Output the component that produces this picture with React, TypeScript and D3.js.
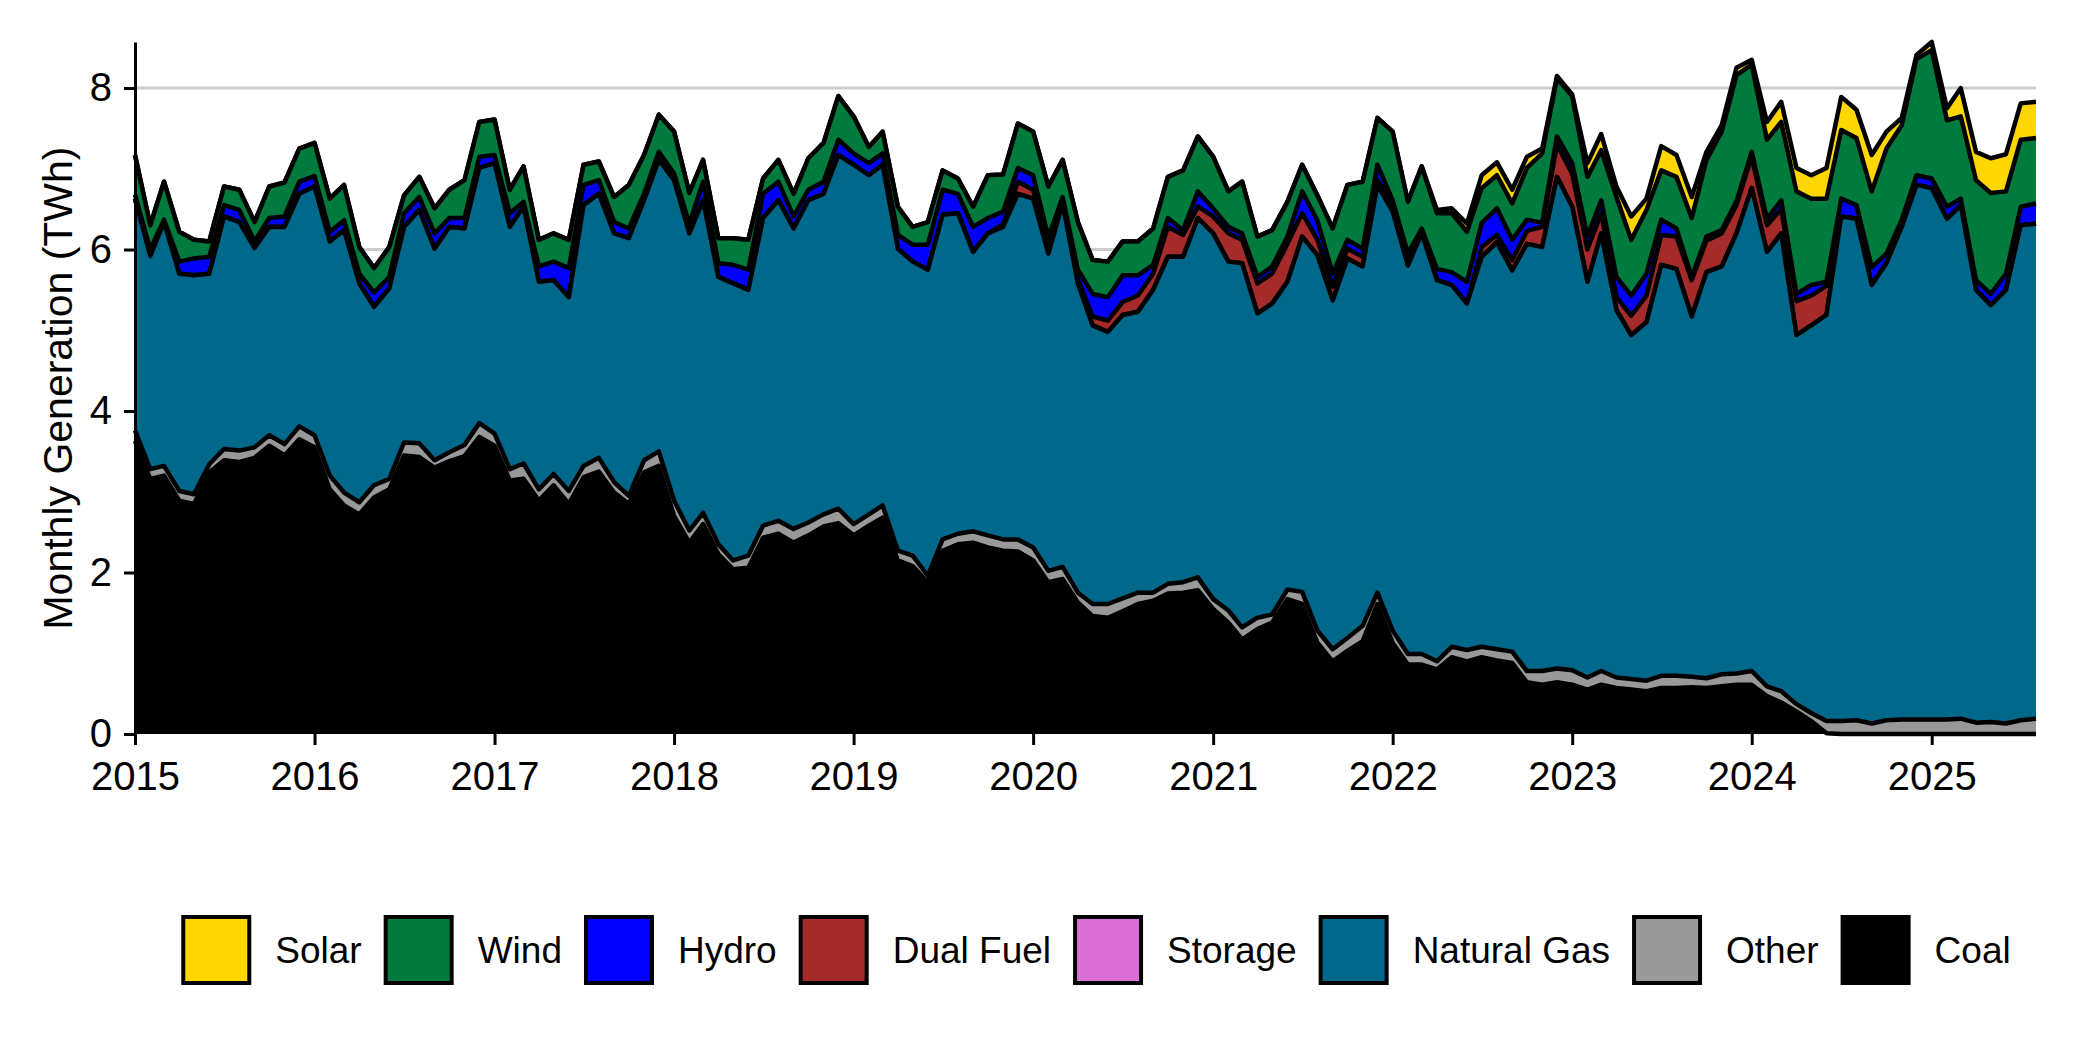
import { useEffect, useRef } from 'react'
import * as d3 from 'd3'

// monthly, Jan 2015 .. Aug 2025 (TWh)
const months = d3.timeMonth.range(new Date(2015, 0, 1), new Date(2025, 8, 1))

const coal = [
  3.63, 3.16, 3.20, 2.89, 2.85, 3.24, 3.39, 3.37, 3.42, 3.57, 3.45, 3.65,
  3.55, 3.03, 2.83, 2.72, 2.93, 3.03, 3.45, 3.43, 3.30, 3.38, 3.44, 3.68,
  3.57, 3.14, 3.16, 2.89, 3.08, 2.85, 3.18, 3.25, 2.99, 2.85, 3.24, 3.32,
  2.70, 2.37, 2.60, 2.23, 2.04, 2.06, 2.43, 2.48, 2.37, 2.46, 2.57, 2.61,
  2.46, 2.58, 2.68, 2.15, 2.08, 1.88, 2.27, 2.35, 2.37, 2.31, 2.27, 2.26,
  2.15, 1.88, 1.92, 1.63, 1.46, 1.44, 1.52, 1.61, 1.65, 1.74, 1.75, 1.78,
  1.55, 1.38, 1.17, 1.30, 1.38, 1.67, 1.61, 1.13, 0.90, 1.03, 1.15, 1.61,
  1.13, 0.86, 0.86, 0.80, 0.95, 0.90, 0.95, 0.91, 0.88, 0.64, 0.61, 0.64,
  0.61, 0.55, 0.61, 0.57, 0.55, 0.53, 0.57, 0.57, 0.58, 0.57, 0.59, 0.61,
  0.61, 0.47, 0.39, 0.28, 0.16, 0.01, 0, 0, 0, 0, 0, 0,
  0, 0, 0, 0, 0, 0, 0, 0,
]

const other = [
  0.13, 0.12, 0.12, 0.12, 0.12, 0.10, 0.14, 0.14, 0.13, 0.13, 0.14, 0.16,
  0.15, 0.17, 0.16, 0.15, 0.15, 0.13, 0.16, 0.17, 0.09, 0.11, 0.14, 0.17,
  0.15, 0.14, 0.19, 0.14, 0.14, 0.16, 0.14, 0.17, 0.13, 0.10, 0.15, 0.18,
  0.19, 0.15, 0.14, 0.12, 0.11, 0.15, 0.15, 0.16, 0.17, 0.16, 0.15, 0.18,
  0.14, 0.14, 0.15, 0.12, 0.13, 0.08, 0.14, 0.13, 0.14, 0.15, 0.14, 0.15,
  0.16, 0.14, 0.15, 0.12, 0.15, 0.17, 0.16, 0.14, 0.10, 0.12, 0.13, 0.16,
  0.12, 0.15, 0.15, 0.14, 0.10, 0.12, 0.15, 0.15, 0.15, 0.16, 0.19, 0.14,
  0.15, 0.13, 0.13, 0.10, 0.13, 0.14, 0.13, 0.14, 0.14, 0.14, 0.17, 0.17,
  0.18, 0.15, 0.17, 0.13, 0.13, 0.13, 0.15, 0.15, 0.13, 0.12, 0.15, 0.14,
  0.17, 0.12, 0.14, 0.09, 0.10, 0.15, 0.16, 0.17, 0.13, 0.17, 0.18, 0.18,
  0.18, 0.18, 0.19, 0.14, 0.15, 0.13, 0.17, 0.19,
]

const naturalGas = [
  2.87, 2.64, 3.02, 2.69, 2.71, 2.36, 2.88, 2.83, 2.47, 2.58, 2.69, 2.88,
  3.08, 2.90, 3.25, 2.71, 2.21, 2.36, 2.67, 2.89, 2.62, 2.79, 2.68, 3.16,
  3.35, 3.00, 3.18, 2.57, 2.40, 2.40, 3.23, 3.27, 3.08, 3.19, 3.22, 3.61,
  3.97, 3.68, 3.87, 3.31, 3.43, 3.29, 3.81, 3.97, 3.72, 3.99, 3.97, 4.38,
  4.45, 4.20, 4.22, 3.74, 3.64, 3.79, 4.02, 3.97, 3.46, 3.74, 3.87, 4.28,
  4.32, 3.93, 4.50, 3.83, 3.45, 3.37, 3.51, 3.48, 3.75, 4.05, 4.03, 4.45,
  4.53, 4.32, 4.51, 3.77, 3.85, 3.81, 4.40, 4.65, 4.32, 4.70, 4.45, 5.05,
  5.19, 4.81, 5.21, 4.72, 4.48, 4.29, 4.83, 5.04, 4.72, 5.29, 5.25, 6.09,
  5.74, 4.90, 5.42, 4.55, 4.26, 4.44, 5.09, 5.04, 4.46, 5.03, 5.05, 5.45,
  5.98, 5.38, 5.67, 4.57, 4.80, 5.03, 6.25, 6.21, 5.43, 5.66, 6.10, 6.62,
  6.58, 6.20, 6.36, 5.36, 5.16, 5.37, 6.13, 6.13,
]

const storage = months.map(() => 0)

const dualFuel = [
  0, 0, 0, 0, 0, 0, 0, 0, 0, 0, 0, 0,
  0, 0, 0, 0, 0, 0, 0, 0, 0, 0, 0, 0,
  0, 0, 0, 0, 0, 0, 0, 0, 0, 0, 0, 0,
  0, 0, 0, 0, 0, 0, 0, 0, 0, 0, 0, 0,
  0, 0, 0, 0, 0, 0, 0, 0, 0, 0, 0.03, 0.15,
  0.11, 0.05, 0.03, 0.05, 0.11, 0.14, 0.16, 0.20, 0.20, 0.37, 0.27, 0.14,
  0.21, 0.35, 0.29, 0.37, 0.37, 0.47, 0.29, 0.19, 0.17, 0.12, 0.12, 0.06,
  0.10, 0.05, 0.02, 0, 0, 0, 0.12, 0.09, 0.13, 0.16, 0.25, 0.40,
  0.41, 0.40, 0.25, 0.16, 0.24, 0.33, 0.37, 0.40, 0.45, 0.39, 0.41, 0.35,
  0.39, 0.33, 0.30, 0.42, 0.37, 0.36, 0, 0, 0, 0, 0, 0,
  0, 0, 0, 0, 0, 0, 0, 0,
]

const hydro = [
  0.05, 0.08, 0.03, 0.15, 0.21, 0.21, 0.14, 0.15, 0.08, 0.11, 0.13, 0.15,
  0.13, 0.12, 0.12, 0.12, 0.18, 0.14, 0.17, 0.16, 0.19, 0.11, 0.13, 0.14,
  0.10, 0.17, 0.06, 0.19, 0.23, 0.36, 0.25, 0.17, 0.14, 0.12, 0.08, 0.10,
  0.08, 0.12, 0.23, 0.17, 0.23, 0.25, 0.30, 0.23, 0.15, 0.13, 0.15, 0.19,
  0.14, 0.15, 0.14, 0.17, 0.21, 0.31, 0.31, 0.24, 0.31, 0.19, 0.16, 0.17,
  0.18, 0.15, 0.05, 0.12, 0.28, 0.29, 0.33, 0.25, 0.11, 0.11, 0.06, 0.19,
  0.10, 0.08, 0.08, 0.08, 0.09, 0.09, 0.27, 0.24, 0.16, 0.11, 0.10, 0.19,
  0.04, 0.10, 0.04, 0.14, 0.16, 0.27, 0.30, 0.33, 0.25, 0.14, 0.05, 0.10,
  0.13, 0.16, 0.16, 0.25, 0.25, 0.27, 0.19, 0.10, 0.04, 0.05, 0.04, 0.05,
  0.06, 0.08, 0.11, 0.09, 0.13, 0.05, 0.22, 0.17, 0.22, 0.12, 0.09, 0.12,
  0.12, 0.15, 0.08, 0.12, 0.14, 0.20, 0.23, 0.25,
]

const wind = [
  0.49, 0.30, 0.47, 0.37, 0.23, 0.19, 0.23, 0.25, 0.24, 0.39, 0.42, 0.41,
  0.41, 0.41, 0.44, 0.33, 0.30, 0.37, 0.22, 0.25, 0.31, 0.35, 0.47, 0.43,
  0.44, 0.29, 0.44, 0.33, 0.35, 0.35, 0.25, 0.23, 0.31, 0.54, 0.48, 0.46,
  0.52, 0.38, 0.27, 0.31, 0.33, 0.37, 0.19, 0.27, 0.28, 0.39, 0.48, 0.54,
  0.46, 0.20, 0.27, 0.35, 0.22, 0.28, 0.24, 0.19, 0.25, 0.53, 0.46, 0.55,
  0.54, 0.63, 0.46, 0.59, 0.42, 0.44, 0.42, 0.42, 0.45, 0.51, 0.74, 0.68,
  0.64, 0.44, 0.64, 0.50, 0.45, 0.43, 0.33, 0.31, 0.56, 0.68, 0.83, 0.58,
  0.85, 0.64, 0.77, 0.69, 0.73, 0.62, 0.43, 0.41, 0.45, 0.64, 0.86, 0.72,
  0.83, 0.74, 0.62, 0.99, 0.69, 0.79, 0.61, 0.64, 0.73, 0.95, 1.22, 1.56,
  1.08, 0.98, 0.97, 1.27, 1.07, 1.03, 0.85, 0.83, 0.94, 1.30, 1.17, 1.44,
  1.59, 1.07, 1.02, 1.24, 1.25, 1.02, 0.83, 0.81,
]

const solar = [
  0, 0, 0, 0, 0, 0, 0, 0, 0, 0, 0, 0,
  0, 0, 0, 0, 0, 0, 0, 0, 0, 0, 0, 0,
  0, 0, 0, 0, 0, 0, 0, 0, 0, 0, 0, 0,
  0, 0, 0, 0, 0, 0, 0, 0, 0, 0, 0, 0,
  0, 0, 0, 0, 0, 0, 0, 0, 0, 0, 0, 0,
  0, 0, 0, 0, 0, 0, 0, 0, 0, 0, 0, 0,
  0, 0, 0, 0, 0, 0, 0, 0, 0, 0, 0, 0,
  0, 0, 0, 0.04, 0.06, 0.10, 0.16, 0.16, 0.17, 0.14, 0.06, 0.03,
  0.02, 0.17, 0.20, 0.13, 0.29, 0.14, 0.30, 0.27, 0.26, 0.10, 0.08, 0.09,
  0.06, 0.22, 0.25, 0.29, 0.29, 0.38, 0.41, 0.35, 0.45, 0.21, 0.09, 0.05,
  0.10, 0.15, 0.35, 0.35, 0.43, 0.46, 0.45, 0.45,
]

// stacking order, bottom to top
const stackKeys = ['Coal', 'Other', 'Natural Gas', 'Storage', 'Dual Fuel', 'Hydro', 'Wind', 'Solar']
const legendKeys = ['Solar', 'Wind', 'Hydro', 'Dual Fuel', 'Storage', 'Natural Gas', 'Other', 'Coal']
const fills: Record<string, string> = {
  Solar: '#FFD700',
  Wind: '#007A3D',
  Hydro: '#0000FF',
  'Dual Fuel': '#A52A2A',
  Storage: '#DA70D6',
  'Natural Gas': '#00688B',
  Other: '#999999',
  Coal: '#000000',
}
const yTicks = [0, 2, 4, 6, 8]

export default function App() {
  const svgRef = useRef<SVGSVGElement>(null)

  useEffect(() => {
    if (!svgRef.current) return
    const svg = d3.select(svgRef.current)
    svg.selectAll('*').remove()

    const font = '"Liberation Sans", Arial, sans-serif'
    const left = 135
    const right = 2036
    const top = 42
    const bottom = 734

    const rows = months.map((date, i) => ({
      date,
      Coal: coal[i],
      Other: other[i],
      'Natural Gas': naturalGas[i],
      Storage: storage[i],
      'Dual Fuel': dualFuel[i],
      Hydro: hydro[i],
      Wind: wind[i],
      Solar: solar[i],
    }))

    const stacked = d3.stack<any>().keys(stackKeys)(rows)
    const maxTotal = d3.max(stacked[stacked.length - 1], (d) => d[1]) ?? 1

    const x = d3
      .scaleTime()
      .domain([months[0], months[months.length - 1]])
      .range([left, right])
    const y = d3.scaleLinear().domain([0, maxTotal]).range([bottom, top])

    // grid
    svg
      .append('g')
      .selectAll('line')
      .data(yTicks.filter((t) => t > 0))
      .join('line')
      .attr('x1', left)
      .attr('x2', right)
      .attr('y1', (d) => y(d))
      .attr('y2', (d) => y(d))
      .attr('stroke', '#cccccc')
      .attr('stroke-width', 3)

    const area = d3
      .area<any>()
      .x((d) => x(d.data.date))
      .y0((d) => y(d[0]))
      .y1((d) => y(d[1]))
    const upper = d3
      .line<any>()
      .x((d) => x(d.data.date))
      .y((d) => y(d[1]))

    // top series first, so lower outlines sit over the fills above them
    const layers = svg.append('g')
    stacked
      .slice()
      .reverse()
      .forEach((s) => {
        layers.append('path').datum(s).attr('fill', fills[s.key]).attr('d', area)
        layers
          .append('path')
          .datum(s)
          .attr('fill', 'none')
          .attr('stroke', '#000')
          .attr('stroke-width', 4.5)
          .attr('stroke-linejoin', 'round')
          .attr('d', upper)
      })

    // y axis
    const yAxis = svg
      .append('g')
      .attr('transform', `translate(${left},0)`)
      .call(d3.axisLeft(y).tickValues(yTicks).tickFormat(d3.format('d')).tickSize(11).tickSizeOuter(0).tickPadding(12))
    yAxis.select('.domain').attr('stroke', '#000').attr('stroke-width', 3)
    yAxis.selectAll('.tick line').attr('stroke', '#000').attr('stroke-width', 3)
    yAxis.selectAll('.tick text').attr('font-family', font).attr('font-size', 40).attr('fill', '#000')

    // x axis
    const xAxis = svg
      .append('g')
      .attr('transform', `translate(0,${bottom})`)
      .call(
        d3
          .axisBottom(x)
          .ticks(d3.timeYear.every(1))
          .tickFormat((d) => d3.timeFormat('%Y')(d as Date))
          .tickSize(11)
          .tickPadding(17)
      )
    xAxis.select('.domain').remove()
    xAxis.selectAll('.tick line').attr('stroke', '#000').attr('stroke-width', 3)
    xAxis.selectAll('.tick text').attr('font-family', font).attr('font-size', 40).attr('fill', '#000')

    svg
      .append('text')
      .attr('transform', `translate(72,${(top + bottom) / 2}) rotate(-90)`)
      .attr('text-anchor', 'middle')
      .attr('font-family', font)
      .attr('font-size', 41)
      .attr('fill', '#000')
      .text('Monthly Generation (TWh)')

    // legend
    const keySize = 70
    const legend = svg.append('g')
    const items = legendKeys.map((k) => {
      const g = legend.append('g')
      g.append('rect')
        .attr('x', 2)
        .attr('y', 2)
        .attr('width', keySize - 4)
        .attr('height', keySize - 4)
        .attr('fill', fills[k])
        .attr('stroke', '#000')
        .attr('stroke-width', 4)
      const t = g
        .append('text')
        .attr('x', keySize + 24)
        .attr('y', keySize / 2 + 13)
        .attr('font-family', font)
        .attr('font-size', 37)
        .attr('fill', '#000')
        .text(k)
      const w = (t.node() as SVGTextElement).getComputedTextLength()
      return { g, w: keySize + 24 + w }
    })
    const gap = 22
    const totalW = d3.sum(items, (d) => d.w) + gap * (items.length - 1)
    let cx = 1096 - totalW / 2
    items.forEach((it) => {
      it.g.attr('transform', `translate(${cx},915)`)
      cx += it.w + gap
    })
  }, [])

  return (
    <svg
      ref={svgRef}
      width={2100}
      height={1050}
      style={{ position: 'absolute', left: 0, top: 0, background: '#fff' }}
    />
  )
}
